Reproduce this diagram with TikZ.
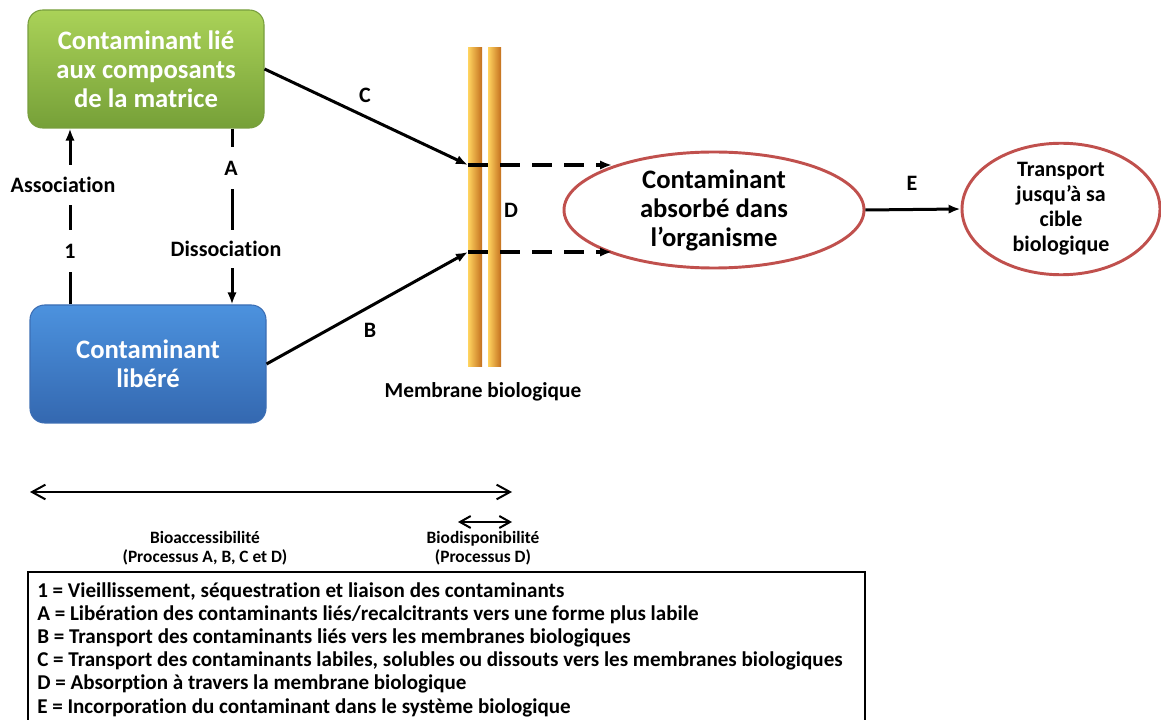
\documentclass[tikz,border=0pt]{standalone}
\usepackage{fontspec}
\setmainfont{Carlito}[Ligatures={CommonOff,ContextualOff},Contextuals=AlternateOff]
\usetikzlibrary{arrows.meta,positioning,shapes.geometric}
\definecolor{MatrixGreenTop}{RGB}{170,210,88}
\definecolor{MatrixGreenBot}{RGB}{118,160,56}
\definecolor{MatrixGreenEdge}{RGB}{120,158,62}
\definecolor{FreeBlueTop}{RGB}{76,146,222}
\definecolor{FreeBlueBot}{RGB}{52,104,176}
\definecolor{FreeBlueEdge}{RGB}{60,110,180}
\definecolor{MembLight}{RGB}{255,212,96}
\definecolor{MembMid}{RGB}{246,168,44}
\definecolor{MembDark}{RGB}{196,112,30}
\definecolor{CellRed}{RGB}{192,80,77}

\begin{document}
\begin{tikzpicture}[x=0.75pt,y=-0.75pt,>={Latex[length=9pt,width=7pt]},
    boxnode/.style={draw,line width=0.8pt,rounded corners=11pt,
      minimum width=177pt,minimum height=88.5pt,align=center,text=white,
      font=\bfseries\fontsize{20}{21.75}\selectfont},
    cellnode/.style={ellipse,draw=CellRed,line width=2.2pt,inner sep=0pt,
      align=center,font=\bfseries\fontsize{20}{21.75}\selectfont},
    conn/.style={line width=2.25pt},
    gapdash/.style={line width=3pt,dash pattern=on 15pt off 9pt},
    lab/.style={font=\bfseries\fontsize{16.5}{18}\selectfont,fill=white,
      inner sep=1pt},
    span/.style={line width=1.5pt,{Straight Barb[length=10pt,width=11pt]}-{Straight Barb[length=10pt,width=11pt]}},
    spanlab/.style={align=center,font=\bfseries\fontsize{13}{14}\selectfont}]
  \useasboundingbox (0,0) rectangle (1161,720);

  % boxes and cells
  \node[boxnode,top color=MatrixGreenTop,bottom color=MatrixGreenBot,
    draw=MatrixGreenEdge] (lie) at (146,69)
    {Contaminant lié\\aux composants\\de la matrice};
  \node[boxnode,top color=FreeBlueTop,bottom color=FreeBlueBot,
    draw=FreeBlueEdge] (lib) at (148,364) {Contaminant\\libéré};
  \node[cellnode,minimum width=225pt,minimum height=87pt] (abs) at (714,210)
    {Contaminant\\absorbé dans\\l’organisme};
  \node[cellnode,minimum width=148.5pt,minimum height=90pt,
    font=\bfseries\fontsize{16.5}{18.75}\selectfont] (cible) at (1061,209)
    {Transport\\jusqu’à sa\\cible\\biologique};

  % membrane
  \shade[left color=MembLight,middle color=MembMid,right color=MembDark]
    (468,48) rectangle (482,367);
  \shade[left color=MembLight,middle color=MembMid,right color=MembDark]
    (488,48) rectangle (501,367);
  \node[font=\bfseries\fontsize{16}{18}\selectfont] (memb) at (483,392)
    {Membrane biologique};

  \coordinate (inC) at (468,165);
  \coordinate (inB) at (468,252);
  \coordinate (outC) at (612,165);
  \coordinate (outB) at (612,252);
  \coordinate (assocx) at (70,0);
  \coordinate (dissx) at (232,0);

  % transfers
  \draw[conn,->] (lie.east) -- (inC);
  \draw[conn,->] (lib.east) -- (inB);
  \draw[gapdash,->] (inC) -- (outC);
  \draw[gapdash,->] (inB) -- (outB);
  \draw[conn,->] (abs.east) -- (cible.west);
  \node[lab] at (365,95) {C};
  \node[lab] at (370,330) {B};
  \node[lab,fill=none] at (511,210) {D};
  \node[lab] at (912,183) {E};

  % association / dissociation
  \draw[conn,->] (lib.north -| assocx) -- (lie.south -| assocx);
  \node[lab,minimum height=30pt] at (63,185) {Association};
  \node[lab,minimum height=32pt] at (70,251) {1};
  \draw[conn,->] (lie.south -| dissx) -- (lib.north -| dissx);
  \node[lab,minimum height=32pt] at (231,168) {A};
  \node[lab,minimum height=28pt] at (226,249) {Dissociation};

  % spans
  \coordinate (accL) at (30,492);
  \coordinate (accR) at (512,492);
  \coordinate (dispL) at (458,522);
  \coordinate (dispR) at (512,522);
  \draw[span] (accL) -- (accR);
  \draw[span,{Straight Barb[length=8pt,width=9pt]}-{Straight Barb[length=8pt,width=9pt]}]
    (dispL) -- (dispR);
  \node[spanlab] at (205,548) {Bioaccessibilité\\(Processus A, B, C et D)};
  \node[spanlab] at (483,548) {Biodisponibilité\\(Processus D)};

  % legend
  \draw[line width=1.1pt] (28,572) rectangle (865,726);
  \node[anchor=north west,align=left,inner sep=0pt,
    font=\bfseries\fontsize{15.8}{17.4}\selectfont] (legend) at (37,582)
    {1 = Vieillissement, séquestration et liaison des contaminants\\
     A = Libération des contaminants liés/recalcitrants vers une forme plus labile\\
     B = Transport des contaminants liés vers les membranes biologiques\\
     C = Transport des contaminants labiles, solubles ou dissouts vers les membranes biologiques\\
     D = Absorption à travers la membrane biologique\\
     E = Incorporation du contaminant dans le système biologique};
\end{tikzpicture}
\end{document}
